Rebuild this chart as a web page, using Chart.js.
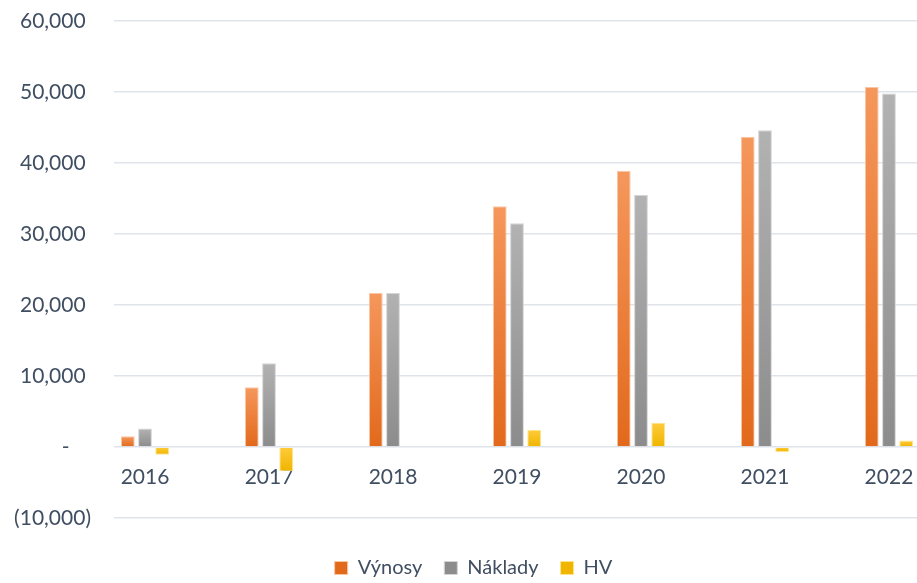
<!DOCTYPE html>
<html>
<head>
<meta charset="utf-8">
<script src="https://cdn.jsdelivr.net/npm/chart.js@4.4.0/dist/chart.umd.min.js"></script>
<style>
  html, body { margin: 0; padding: 0; background: #fff; overflow: hidden; }
</style>
</head>
<body>
<!-- a bit wider than the window: the original is cropped on the right -->
<canvas id="myChart" width="947" height="583"></canvas>
<script>
// data
var years = ['2016', '2017', '2018', '2019', '2020', '2021', '2022'];
var vynosy = [1500, 8400, 21700, 33900, 38900, 43700, 50700];
var naklady = [2600, 11800, 21700, 31500, 35500, 44600, 49800];
var hv = [-1100, -3400, 0, 2400, 3400, -700, 900];
var yTickValues = [-10000, 0, 10000, 20000, 30000, 40000, 50000, 60000];
var yTickLabels = ['(10,000)', '-    ', '10,000 ', '20,000 ', '30,000 ', '40,000 ', '50,000 ', '60,000 '];

var textColor = '#404E62';
var fontFamily = "Lato, 'Open Sans', sans-serif";

function points(arr) {
    return arr.map(function (v, i) { return { x: i, y: v }; });
}

// Excel style vertical gradient on every bar
function gradientFill(light, dark) {
    return function (c) {
        if (c.type !== 'data' || !c.chart.chartArea) return dark;
        var y = c.chart.scales.y;
        var a = y.getPixelForValue(c.parsed.y), b = y.getPixelForValue(0);
        var top = Math.min(a, b), bottom = Math.max(a, b);
        if (bottom - top < 1) bottom = top + 1;
        var g = c.chart.ctx.createLinearGradient(0, top, 0, bottom);
        g.addColorStop(0, light);
        g.addColorStop(1, dark);
        return g;
    };
}

var ctx = document.getElementById('myChart').getContext('2d');
var myChart = new Chart(ctx, {
    type: 'bar',
    data: {
        datasets: [
            {
                label: 'Výnosy',
                data: points(vynosy),
                backgroundColor: gradientFill('#F5975C', '#E2691B'),
                borderColor: '#F9C6A6',
                borderWidth: 1
            },
            {
                label: 'Náklady',
                data: points(naklady),
                backgroundColor: gradientFill('#B2B2B2', '#8C8C8C'),
                borderColor: '#D4D4D4',
                borderWidth: 1
            },
            {
                label: 'HV',
                data: points(hv),
                backgroundColor: gradientFill('#FFCB3A', '#EFB500'),
                borderColor: '#FFE48A',
                borderWidth: 1
            }
        ]
    },
    options: {
        responsive: false,
        animation: false,
        devicePixelRatio: 1,
        datasets: {
            bar: { categoryPercentage: 0.416, barPercentage: 0.8 }
        },
        layout: { padding: { left: 0, right: 0, top: 21, bottom: -5 } },
        plugins: {
            tooltip: { enabled: false },
            legend: {
                position: 'bottom',
                title: { display: true, text: '', padding: { top: 17, bottom: 0 }, font: { size: 1, lineHeight: 1 } },
                labels: {
                    boxWidth: 13,
                    boxHeight: 13,
                    padding: 22,
                    color: textColor,
                    font: { family: fontFamily, size: 20 }
                }
            }
        },
        scales: {
            x: {
                type: 'linear',
                position: { y: 0 },
                offset: false,
                min: -0.25,
                max: 6.468,
                grid: { display: false, offset: false },
                border: { display: false },
                afterBuildTicks: function (s) {
                    s.ticks = years.map(function (_, i) { return { value: i }; });
                },
                afterFit: function (s) { s.height = 0; },
                ticks: {
                    autoSkip: false,
                    maxRotation: 0,
                    padding: 10,
                    color: textColor,
                    font: { family: fontFamily, size: 21 },
                    callback: function (v) { return years[v]; }
                }
            },
            y: {
                min: -10000,
                max: 60000,
                afterBuildTicks: function (s) {
                    s.ticks = yTickValues.map(function (v) { return { value: v }; });
                },
                afterFit: function (s) { s.width = 114; },
                // invisible tick marks keep the labels away from the plot
                grid: { color: '#DFE3EA', lineWidth: 1.5, drawTicks: true, tickLength: 15, tickColor: 'rgba(0,0,0,0)' },
                border: { display: false },
                ticks: {
                    padding: 8,
                    color: textColor,
                    font: { family: fontFamily, size: 21 },
                    callback: function (v) { return yTickLabels[yTickValues.indexOf(v)]; }
                }
            }
        }
    }
});
</script>
</body>
</html>
